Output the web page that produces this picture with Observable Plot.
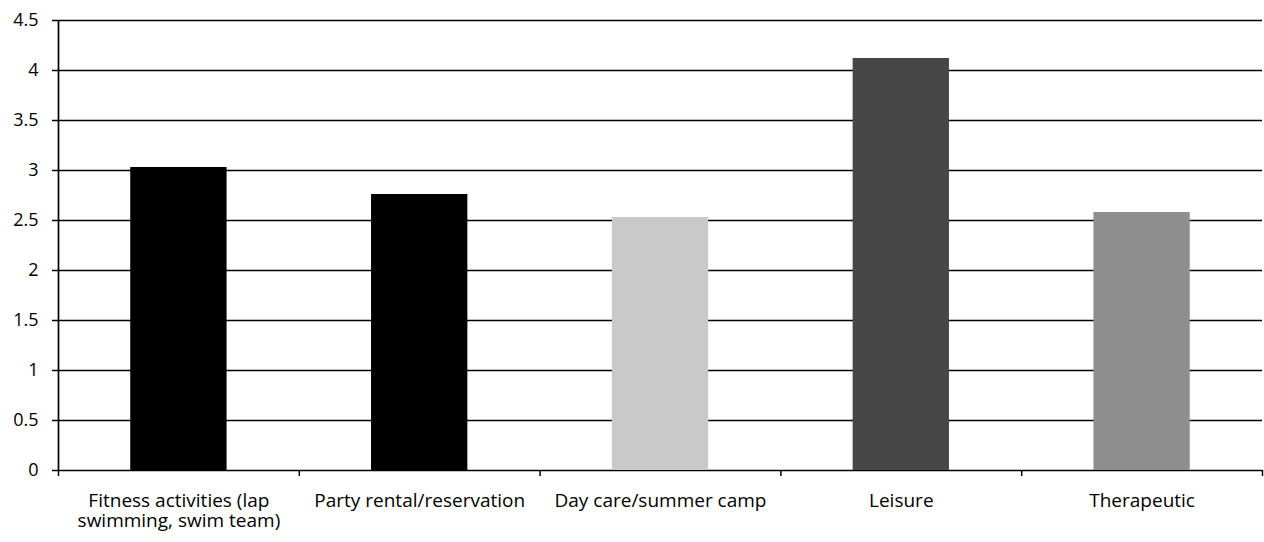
<!DOCTYPE html>
<html>
<head>
<meta charset="utf-8">
<script src="https://cdn.jsdelivr.net/npm/d3@7"></script>
<script src="https://cdn.jsdelivr.net/npm/@observablehq/plot@0.6"></script>
<style>
  html, body { margin: 0; padding: 0; background: #fff; }
  #chart svg { display: block; }
</style>
</head>
<body>
<div id="chart"></div>
<script>
const categories = [
  "Fitness activities (lap swimming, swim team)",
  "Party rental/reservation",
  "Day care/summer camp",
  "Leisure",
  "Therapeutic"
];
const tickLabels = [
  "Fitness activities (lap\nswimming, swim team)",
  "Party rental/reservation",
  "Day care/summer camp",
  "Leisure",
  "Therapeutic"
];
const values = [3.03, 2.76, 2.53, 4.12, 2.58];
const yTicks = [0, 0.5, 1, 1.5, 2, 2.5, 3, 3.5, 4, 4.5];
const barColors = ["#000000", "#000000", "#c9c9c9", "#474747", "#8e8e8e"];

const data = categories.map((c, i) => ({category: c, label: tickLabels[i], value: values[i], idx: i, color: barColors[i]}));
const bounds = d3.range(categories.length + 1);

const font = "'Open Sans', sans-serif";

const chart = Plot.plot({
  width: 1264,
  height: 542,
  marginLeft: 58,
  marginRight: 2,
  marginTop: 20,
  marginBottom: 72,
  style: {fontFamily: font, fontSize: "18px", color: "#000", background: "#fff"},
  x: {type: "linear", domain: [0, categories.length], axis: null},
  y: {domain: [0, 4.5], axis: null},
  marks: [
    Plot.ruleY(yTicks, {stroke: "#000", strokeWidth: 1.5}),
    Plot.rectY(data, {x1: d => d.idx + 0.3, x2: d => d.idx + 0.7, y: "value", fill: d => d.color}),
    Plot.axisY({ticks: yTicks, label: null, tickSize: 6, tickPadding: 14, tickFormat: d => String(d), fontSize: 18, stroke: "#000", strokeWidth: 1.5}),
    Plot.ruleX([0], {stroke: "#000", strokeWidth: 1.7}),
    Plot.axisX({ticks: bounds, label: null, tickSize: 6, tickFormat: () => "", stroke: "#000", strokeWidth: 1.5}),
    Plot.text(data, {x: d => d.idx + 0.5, y: 0, text: "label", dy: 22, fontSize: 19, lineHeight: 1.05, lineAnchor: "top", fill: "#000"})
  ]
});
document.getElementById("chart").appendChild(chart);
</script>
</body>
</html>
